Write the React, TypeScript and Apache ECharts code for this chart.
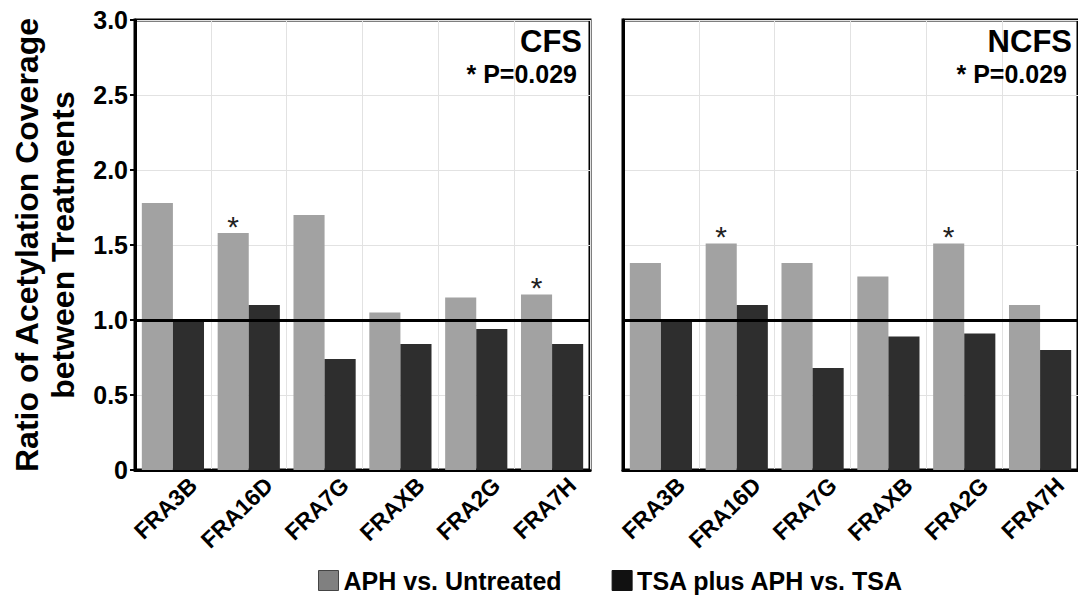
import React, { useEffect, useRef } from "react";
import * as echarts from "echarts";

const categories = ["FRA3B", "FRA16D", "FRA7G", "FRAXB", "FRA2G", "FRA7H"];
const cfsAph = [1.78, 1.58, 1.7, 1.05, 1.15, 1.17];
const cfsTsa = [1.0, 1.1, 0.74, 0.84, 0.94, 0.84];
const ncfsAph = [1.38, 1.51, 1.38, 1.29, 1.51, 1.1];
const ncfsTsa = [1.0, 1.1, 0.68, 0.89, 0.91, 0.8];
const cfsStars = ["FRA16D", "FRA7H"];
const ncfsStars = ["FRA16D", "FRA2G"];
const yTicks = [0, 0.5, 1.0, 1.5, 2.0, 2.5, 3.0];
const seriesNames = ["APH vs. Untreated", "TSA plus APH vs. TSA"];
const panelTitles = ["CFS", "NCFS"];
const pNote = "* P=0.029";

const FONT = "'Liberation Sans', Arial, Helvetica, sans-serif";
const GRAY = "#a2a2a2";
const DARK = "#2e2e2e";

function withStars(vals: number[], stars: string[]) {
  return vals.map((v, i) =>
    stars.includes(categories[i])
      ? {
          value: v,
          label: {
            show: true,
            position: "top",
            distance: 2,
            offset: [0, 10],
            formatter: "*",
            fontSize: 30,
            fontFamily: FONT,
            color: "#222",
          },
        }
      : v
  );
}

export default function App() {
  const ref = useRef<HTMLDivElement>(null);
  useEffect(() => {
    document.body.style.margin = "0";
    const chart = echarts.init(ref.current!, null, { renderer: "svg" });
    const grids = [
      { left: 135, top: 20, width: 455, height: 450 },
      { left: 623, top: 20, width: 457, height: 450 },
    ];
    const xAxes = grids.map((_, gi) => ({
      type: "category",
      gridIndex: gi,
      data: categories,
      axisLine: { show: true, lineStyle: { color: "#000", width: 3 } },
      axisTick: { show: false },
      splitLine: { show: true, lineStyle: { color: "#e2e2e2", width: 1 } },
      axisLabel: {
        rotate: 44,
        interval: 0,
        margin: 31,
        fontSize: 23,
        fontWeight: "bold",
        fontFamily: FONT,
        color: "#000",
        padding: [0, -28, 0, 0],
        hideOverlap: false,
      },
    }));
    const yAxes = grids.map((_, gi) => ({
      type: "value",
      gridIndex: gi,
      min: 0,
      max: 3,
      interval: 0.5,
      axisLine: { show: true, lineStyle: { color: "#000", width: 3 } },
      axisTick: { show: gi === 0, length: 5, lineStyle: { color: "#000", width: 2 } },
      splitLine: { show: true, lineStyle: { color: "#e2e2e2", width: 1 } },
      axisLabel: {
        show: gi === 0,
        fontSize: 25,
        fontWeight: "bold",
        fontFamily: FONT,
        color: "#000",
        margin: 7,
        formatter: (v: number) => {
          const t = yTicks.find((x) => Math.abs(x - v) < 1e-6);
          return t === 0 ? "0" : (t ?? v).toFixed(1);
        },
      },
      name: gi === 0 ? "Ratio of Acetylation Coverage\nbetween Treatments" : "",
      nameLocation: "middle",
      nameRotate: 90,
      nameGap: 54,
      nameTextStyle: {
        fontSize: 32,
        fontWeight: "bold",
        fontFamily: FONT,
        color: "#000",
        lineHeight: 36,
      },
    }));
    const refLine = {
      silent: true,
      symbol: ["none", "none"],
      label: { show: false },
      lineStyle: { color: "#000", width: 3, type: "solid" },
      data: [{ yAxis: 1 }],
    };
    const barCommon = {
      type: "bar",
      barGap: "0%",
      barCategoryGap: "18%",
    };
    const series = [
      {
        ...barCommon,
        name: seriesNames[0],
        xAxisIndex: 0,
        yAxisIndex: 0,
        data: withStars(cfsAph, cfsStars),
        itemStyle: { color: GRAY },
      },
      {
        ...barCommon,
        name: seriesNames[1],
        xAxisIndex: 0,
        yAxisIndex: 0,
        data: cfsTsa,
        itemStyle: { color: DARK },
        markLine: refLine,
      },
      {
        ...barCommon,
        name: seriesNames[0],
        xAxisIndex: 1,
        yAxisIndex: 1,
        data: withStars(ncfsAph, ncfsStars),
        itemStyle: { color: GRAY },
      },
      {
        ...barCommon,
        name: seriesNames[1],
        xAxisIndex: 1,
        yAxisIndex: 1,
        data: ncfsTsa,
        itemStyle: { color: DARK },
        markLine: refLine,
      },
    ];
    const titleRight = [582, 1072];
    const noteRight = [577, 1067];
    const titleTexts: any[] = [];
    grids.forEach((_, gi) => {
      titleTexts.push({
        type: "text",
        right: 1078 - titleRight[gi],
        top: 26,
        z: 100,
        style: {
          text: panelTitles[gi],
          fontSize: 31,
          fontWeight: "bold",
          fontFamily: FONT,
          fill: "#000",
        },
      });
      titleTexts.push({
        type: "text",
        right: 1078 - noteRight[gi],
        top: 61,
        z: 100,
        style: {
          text: pNote,
          fontSize: 25,
          fontWeight: "bold",
          fontFamily: FONT,
          fill: "#000",
        },
      });
    });
    chart.setOption({
      animation: false,
      backgroundColor: "#fff",
      grid: grids.map((g) => ({
        ...g,
        show: true,
        borderColor: "#000",
        borderWidth: 3,
        backgroundColor: "transparent",
      })),
      xAxis: xAxes,
      yAxis: yAxes,
      legend: {
        data: [
          {
            name: seriesNames[0],
            itemStyle: { color: "#808080", borderColor: "#444", borderWidth: 1 },
          },
          {
            name: seriesNames[1],
            itemStyle: { color: "#111", borderColor: "#111", borderWidth: 1 },
          },
        ],
        left: 313,
        top: 563,
        itemWidth: 20,
        itemHeight: 20,
        itemGap: 50,
        icon: "rect",
        textStyle: {
          fontSize: 25,
          fontWeight: "bold",
          fontFamily: FONT,
          color: "#000",
        },
      },
      graphic: titleTexts,
      series,
    });
    return () => chart.dispose();
  }, []);
  return <div ref={ref} style={{ width: 1078, height: 601 }} />;
}
